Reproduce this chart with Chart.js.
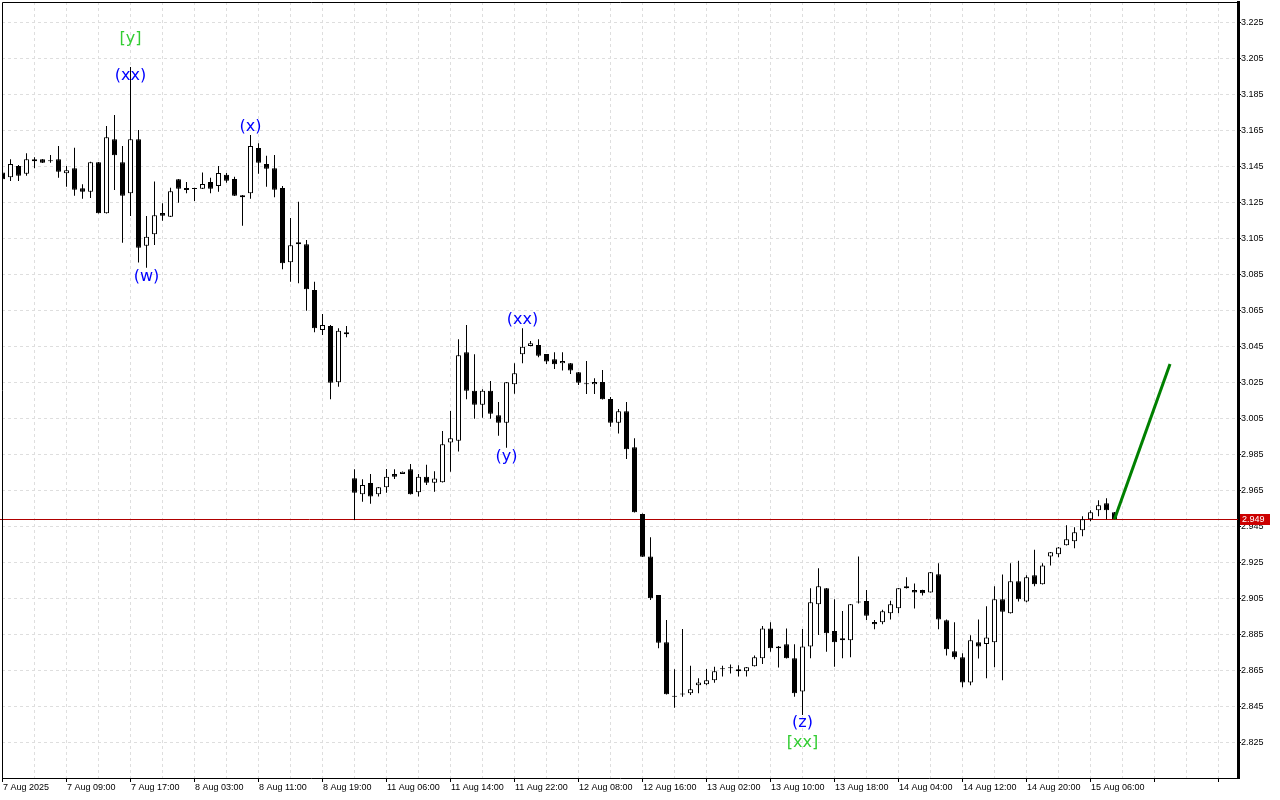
<!DOCTYPE html>
<html>
<head>
<meta charset="utf-8">
<script src="https://cdn.jsdelivr.net/npm/chart.js@4.4.1/dist/chart.umd.min.js"></script>
<style>
html, body { margin: 0; padding: 0; background: #fff; }
#wrap { width: 1280px; height: 800px; }
</style>
</head>
<body>
<div id="wrap"><canvas id="canvas"></canvas></div>
<script>
// hourly candles
const opens = [3.1416,3.1390,3.1453,3.1410,3.1479,3.1490,3.1480,3.1490,3.1412,3.1440,
  3.1329,3.1310,3.1473,3.1190,3.1601,3.1473,3.1301,3.1601,3.1010,3.1073,
  3.1192,3.1171,3.1379,3.1331,3.1326,3.1327,3.1364,3.1342,3.1404,3.1381,
  3.1279,3.1301,3.1553,3.1464,3.1440,3.1331,3.0918,3.1018,3.1018,3.0764,
  3.0542,3.0564,3.0251,3.0529,2.9718,2.9629,2.9692,2.9629,2.9668,2.9742,
  2.9742,2.9768,2.9640,2.9727,2.9693,2.9696,2.9916,2.9927,3.0418,3.0204,
  3.0127,3.0204,3.0068,3.0027,3.0240,3.0407,3.0453,3.0458,3.0408,3.0379,
  3.0357,3.0357,3.0307,3.0241,3.0240,3.0253,3.0158,3.0027,3.0090,2.9890,
  2.9519,2.9284,2.9069,2.8807,2.8505,2.8517,2.8523,2.8568,2.8573,2.8596,
  2.8657,2.8662,2.8657,2.8646,2.8673,2.8718,2.8884,2.8773,2.8796,2.8718,
  2.8534,2.8784,2.9018,2.9107,2.8869,2.8818,2.8818,2.9028,2.9036,2.8919,
  2.8918,2.8968,2.8996,2.9118,2.9097,2.9097,2.9084,2.9185,2.8929,2.8757,
  2.8723,2.8584,2.8807,2.8797,2.8807,2.9046,2.8968,2.9146,2.9034,2.9179,
  2.9129,2.9284,2.9296,2.9346,2.9368,2.9429,2.9490,2.9540,2.9579,2.9529];
const highs = [3.1431,3.1490,3.1458,3.1523,3.1501,3.1492,3.1514,3.1564,3.1453,3.1554,
  3.1351,3.1477,3.1475,3.1675,3.1736,3.1564,3.2003,3.1653,3.1175,3.1366,
  3.1246,3.1332,3.1381,3.1364,3.1332,3.1416,3.1388,3.1453,3.1414,3.1393,
  3.1292,3.1625,3.1579,3.1510,3.1514,3.1342,3.1164,3.1254,3.1042,3.0810,
  3.0631,3.0569,3.0551,3.0564,2.9768,2.9712,2.9742,2.9669,2.9769,2.9768,
  2.9756,2.9797,2.9742,2.9793,2.9757,2.9981,3.0092,3.0490,3.0569,3.0407,
  3.0212,3.0258,3.0142,3.0253,3.0357,3.0551,3.0481,3.0490,3.0409,3.0418,
  3.0418,3.0358,3.0308,3.0369,3.0273,3.0319,3.0169,3.0103,3.0142,2.9940,
  2.9522,2.9390,2.9069,2.8931,2.8657,2.8881,2.8677,2.8607,2.8658,2.8671,
  2.8677,2.8684,2.8679,2.8669,2.8734,2.8897,2.8918,2.8786,2.8884,2.8796,
  2.8881,2.9107,2.9218,2.9108,2.9046,2.8981,2.9019,2.9284,2.9097,2.8931,
  2.8988,2.9038,2.9108,2.9168,2.9134,2.9098,2.9197,2.9246,2.8934,2.8918,
  2.8746,2.8846,2.8934,2.9007,2.9118,2.9184,2.9246,2.9260,2.9179,2.9321,
  2.9246,2.9308,2.9336,2.9457,2.9446,2.9507,2.9540,2.9596,2.9607,2.9531];
const lows = [3.1364,3.1369,3.1369,3.1399,3.1440,3.1469,3.1471,3.1388,3.1338,3.1288,
  3.1271,3.1275,3.1189,3.1189,3.1319,3.1027,3.1175,3.0916,3.0888,3.1014,
  3.1149,3.1169,3.1249,3.1301,3.1258,3.1325,3.1301,3.1310,3.1360,3.1286,
  3.1121,3.1271,3.1410,3.1338,3.1279,3.0879,3.0810,3.0801,3.0649,3.0529,
  3.0514,3.0157,3.0227,3.0501,2.9486,2.9588,2.9577,2.9616,2.9638,2.9714,
  2.9741,2.9628,2.9616,2.9681,2.9643,2.9695,2.9754,2.9866,3.0157,3.0049,
  3.0054,3.0049,2.9954,2.9888,3.0188,3.0357,3.0452,3.0390,3.0353,3.0325,
  3.0316,3.0297,3.0236,3.0186,3.0186,3.0156,3.0004,2.9966,2.9825,2.9528,
  2.9281,2.9042,2.8773,2.8517,2.8443,2.8504,2.8514,2.8523,2.8568,2.8582,
  2.8616,2.8634,2.8616,2.8616,2.8672,2.8686,2.8754,2.8666,2.8717,2.8504,
  2.8403,2.8718,2.8847,2.8754,2.8671,2.8718,2.8723,2.9022,2.8931,2.8879,
  2.8907,2.8934,2.8968,2.9106,2.8994,2.9066,2.9083,2.8879,2.8734,2.8712,
  2.8557,2.8568,2.8716,2.8607,2.8668,2.8596,2.8967,2.9034,2.9029,2.9118,
  2.9128,2.9234,2.9279,2.9344,2.9329,2.9396,2.9479,2.9507,2.9490,2.9490];
const closes = [3.1379,3.1464,3.1399,3.1490,3.1490,3.1471,3.1479,3.1421,3.1429,3.1321,
  3.1310,3.1473,3.1190,3.1612,3.1512,3.1288,3.1601,3.0999,3.1060,3.1179,
  3.1177,3.1312,3.1327,3.1319,3.1325,3.1353,3.1327,3.1414,3.1371,3.1288,
  3.1290,3.1564,3.1471,3.1438,3.1321,3.0912,3.1012,3.1029,3.0768,3.0551,
  3.0569,3.0249,3.0538,3.0518,2.9638,2.9681,2.9616,2.9668,2.9727,2.9727,
  2.9754,2.9629,2.9727,2.9693,2.9716,2.9907,2.9940,3.0401,3.0204,3.0127,
  3.0204,3.0077,3.0027,3.0251,3.0301,3.0449,3.0468,3.0399,3.0366,3.0351,
  3.0369,3.0316,3.0249,3.0240,3.0253,3.0157,3.0027,3.0090,2.9879,2.9529,
  2.9282,2.9051,2.8804,2.8518,2.8504,2.8518,2.8546,2.8584,2.8596,2.8646,
  2.8658,2.8663,2.8646,2.8668,2.8723,2.8884,2.8773,2.8784,2.8718,2.8523,
  2.8784,2.9029,2.9118,2.8857,2.8807,2.8829,2.9018,2.9029,2.8954,2.8907,
  2.8979,2.9018,2.9107,2.9107,2.9084,2.9079,2.9196,2.8934,2.8768,2.8723,
  2.8584,2.8818,2.8784,2.8834,2.9046,2.8977,2.9146,2.9046,2.9168,2.9129,
  2.9234,2.9307,2.9334,2.9379,2.9418,2.9490,2.9529,2.9568,2.9540,2.9490];

// one label every 8 bars
const timeLabels = ['7 Aug 2025','7 Aug 09:00','7 Aug 17:00','8 Aug 03:00','8 Aug 11:00','8 Aug 19:00',
  '11 Aug 06:00','11 Aug 14:00','11 Aug 22:00','12 Aug 08:00','12 Aug 16:00','13 Aug 02:00',
  '13 Aug 10:00','13 Aug 18:00','14 Aug 04:00','14 Aug 12:00','14 Aug 20:00','15 Aug 06:00'];
const priceTicks = [2.825,2.845,2.865,2.885,2.905,2.925,2.945,2.965,2.985,3.005,
  3.025,3.045,3.065,3.085,3.105,3.125,3.145,3.165,3.185,3.205,3.225];
const lastPrice = 2.949;

// forecast arrow
const forecastBars = [139, 145.94];
const forecastPrices = [2.949, 3.0353];

// wave marks
const waveText = ['[y]','(xx)','(w)','(x)','(xx)','(y)','(z)','[xx]'];
const waveBar = [16, 16, 18, 31, 65, 63, 100, 100];
const wavePrice = [3.2158, 3.1953, 3.0836, 3.1669, 3.0597, 2.9836, 2.8358, 2.8247];

const axisFont = '"Liberation Sans", Arial, sans-serif';

const bodies = opens.map((o, i) => ({x: i, y: [o, closes[i]]}));
const wicks = lows.map((l, i) => ({x: i, y: [l, highs[i]]}));
const forecast = forecastBars.map((b, i) => ({x: b, y: forecastPrices[i]}));

function noPad(s) {
    s.paddingTop = 0; s.paddingBottom = 0;
    s.paddingLeft = 0; s.paddingRight = 0;
}

const overlay = {
    id: 'overlay',
    beforeDatasetsDraw(chart) {
        const ctx = chart.ctx, a = chart.chartArea, y = chart.scales.y;
        const py = Math.round(y.getPixelForValue(lastPrice)) + 0.5;
        ctx.save();
        ctx.strokeStyle = '#b00000';
        ctx.lineWidth = 1;
        ctx.beginPath();
        ctx.moveTo(0, py);
        ctx.lineTo(a.right, py);
        ctx.stroke();
        ctx.restore();
    },
    afterDatasetsDraw(chart) {
        const ctx = chart.ctx, x = chart.scales.x, y = chart.scales.y;
        ctx.save();
        ctx.font = '16px "DejaVu Sans", sans-serif';
        ctx.textAlign = 'center';
        ctx.textBaseline = 'middle';
        for (let i = 0; i < waveText.length; i++) {
            ctx.fillStyle = waveText[i][0] === '[' ? '#32cd32' : '#0000ff';
            ctx.fillText(waveText[i], x.getPixelForValue(waveBar[i]), y.getPixelForValue(wavePrice[i]));
        }
        ctx.restore();
    },
    afterDraw(chart) {
        const ctx = chart.ctx, a = chart.chartArea, x = chart.scales.x, y = chart.scales.y;
        ctx.save();
        ctx.strokeStyle = '#000';
        ctx.lineWidth = 1;
        ctx.beginPath();
        ctx.moveTo(a.left + 0.5, a.bottom);
        ctx.lineTo(a.left + 0.5, a.top + 0.5);
        ctx.lineTo(a.right, a.top + 0.5);
        ctx.stroke();

        // time labels, left edge on the tick
        ctx.fillStyle = '#000';
        ctx.font = '9px ' + axisFont;
        ctx.textBaseline = 'top';
        ctx.textAlign = 'left';
        timeLabels.forEach((t, i) => {
            ctx.fillText(t, Math.round(x.getPixelForValue(i * 8)), a.bottom + 5);
        });

        // last price box
        const py = Math.round(y.getPixelForValue(lastPrice));
        ctx.fillStyle = '#cc0000';
        ctx.fillRect(a.right + 2, py - 5, 30, 11);
        ctx.fillStyle = '#fff';
        ctx.textBaseline = 'middle';
        ctx.fillText(lastPrice.toFixed(3), a.right + 4, py + 0.5);
        ctx.restore();
    }
};

const config = {
    type: 'bar',
    data: {
        datasets: [
            {
                type: 'line',
                data: forecast,
                borderColor: '#008000',
                borderWidth: 3,
                pointRadius: 0,
                order: 0
            },
            {
                data: bodies,
                backgroundColor: opens.map((o, i) => closes[i] >= o ? '#ffffff' : '#000000'),
                borderColor: '#000000',
                borderWidth: 1,
                borderSkipped: false,
                barThickness: 5,
                minBarLength: 1,
                inflateAmount: 0,
                grouped: false,
                order: 1
            },
            {
                data: wicks,
                backgroundColor: '#000000',
                borderWidth: 0,
                barThickness: 1,
                inflateAmount: 0,
                grouped: false,
                order: 2
            }
        ]
    },
    options: {
        animation: false,
        responsive: true,
        maintainAspectRatio: false,
        layout: { padding: { top: 2, left: 2, right: 0, bottom: 0 } },
        plugins: { legend: { display: false }, tooltip: { enabled: false } },
        scales: {
            x: {
                type: 'linear',
                min: -0.0625,
                max: 154.4375,
                offset: false,
                afterFit: s => { s.height = 22; noPad(s); },
                afterBuildTicks: s => {
                    const t = [];
                    for (let v = 0; v <= 152; v += 4) t.push({value: v});
                    s.ticks = t;
                },
                grid: {
                    offset: false,
                    color: '#dedede',
                    tickLength: 4,
                    tickColor: c => (c.tick && c.tick.value % 8 === 0) ? '#000' : 'rgba(0,0,0,0)'
                },
                border: { color: '#000', width: 1, dash: [3, 3] },
                ticks: {
                    autoSkip: false,
                    maxRotation: 0,
                    callback: () => ''
                }
            },
            y: {
                type: 'linear',
                position: 'right',
                min: 2.80528,
                max: 3.23639,
                afterFit: s => { s.width = 42; noPad(s); },
                afterBuildTicks: s => { s.ticks = priceTicks.map(v => ({value: v})); },
                grid: { color: '#dedede', tickLength: 3, tickColor: '#000' },
                border: { color: '#000', width: 3, dash: [3, 3] },
                ticks: {
                    padding: 0,
                    color: '#000',
                    font: { family: axisFont, size: 9 },
                    callback: v => v.toFixed(3)
                }
            }
        }
    },
    plugins: [overlay]
};

const canvas = document.getElementById('canvas');
const chart = new Chart(canvas, config);
</script>
</body>
</html>
